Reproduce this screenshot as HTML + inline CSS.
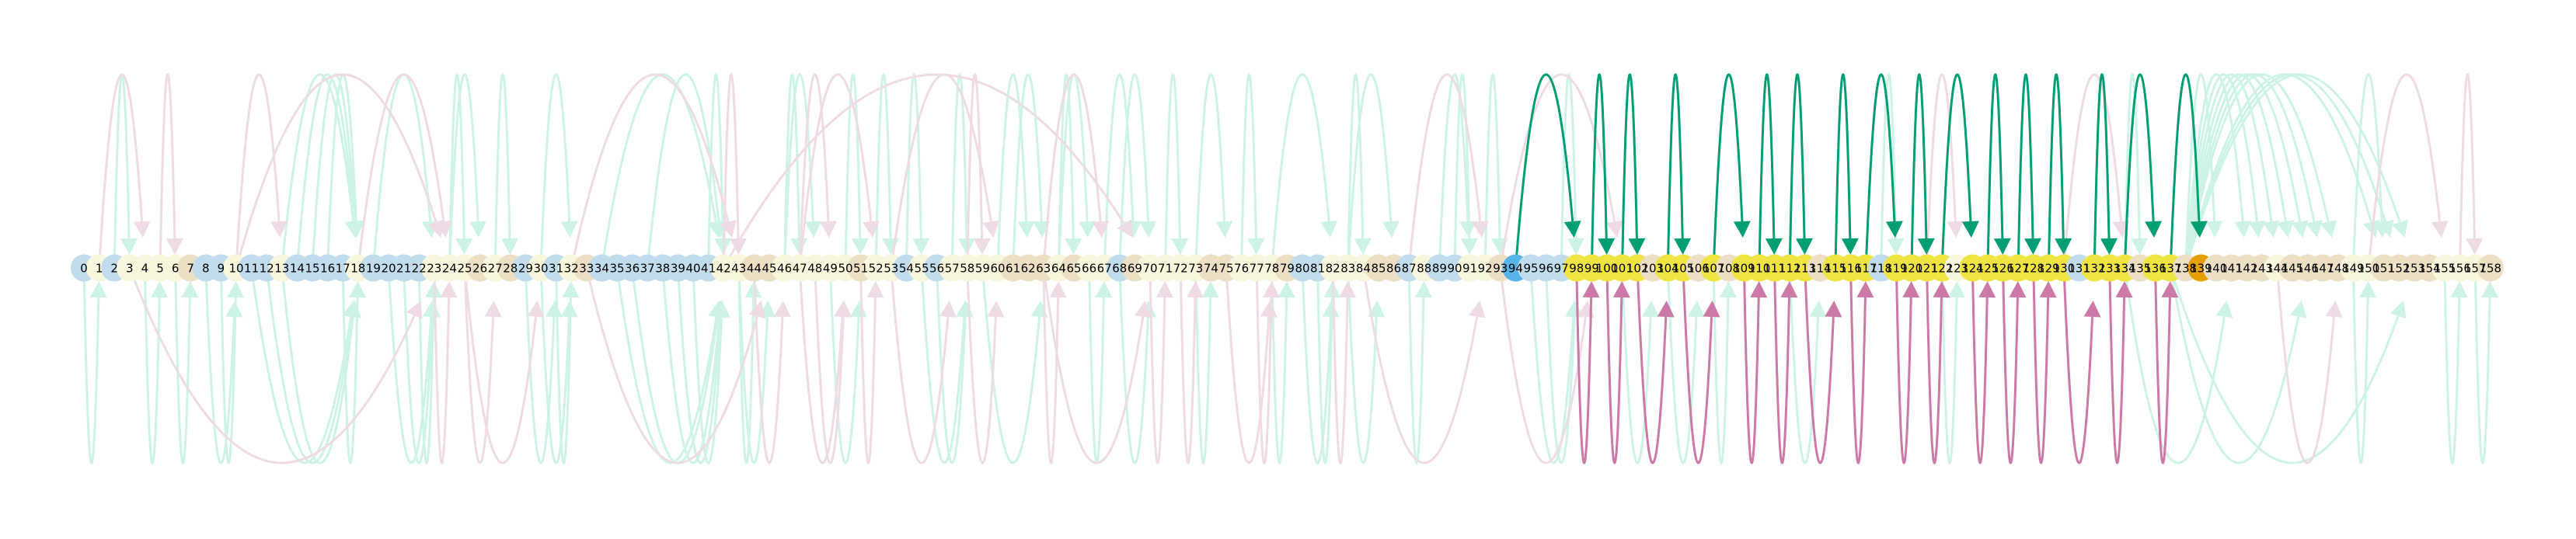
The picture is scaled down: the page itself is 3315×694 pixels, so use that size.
<!DOCTYPE html>
<html><head><meta charset="utf-8">
<style>
html,body{margin:0;padding:0;background:#fff;}
svg{display:block;}
</style></head>
<body>
<svg id="chart" width="3315" height="694" viewBox="0 0 3315 694" xmlns="http://www.w3.org/2000/svg">
<g id="edges-faint"></g>
<g id="edges-hi"></g>
<g id="nodes"></g>
</svg>
<script>
// node color codes per node index 0..158
const nodeColorCodes = "BCBCCCCTBB" + "CBBCBBBBCB" + "BBBCCCTCTB" + "CBCTBBBBBB" + "BBCCTTCCCC" +
  "CTCCBCBCCC" + "CTTTCTCCBT" + "CCCCTTCCCT" + "BBCCCTTBCB" + "BCCTDBBBYY" +
  "YYYTYYTYTY" + "YYYYTYYYBY" + "YYYCYYYYYY" + "YBYYYTYYTO" + "TTTTCTTTTC" + "CTTTTCCCT";
const upMint = [[2,3],[14,18],[15,18],[16,18],[13,18],[19,23],[24,25],[24,26],[27,28],[30,32],[34,42],[37,42],[41,42],[46,47],[46,48],[50,51],[52,53],[54,55],[57,58],[60,62],[61,63],[64,65],[64,66],[67,69],[68,70],[71,72],[73,75],[76,77],[78,82],[83,84],[83,86],[89,91],[90,91],[92,93],[97,98],[118,119],[132,133],[134,135],[138,140],[138,142],[138,143],[138,144],[138,145],[138,146],[138,147],[138,148],[138,151],[138,152],[138,153],[149,151]];
const upPink = [[1,4],[5,6],[10,13],[10,24],[18,24],[32,43],[42,43],[42,70],[47,49],[47,52],[53,60],[58,59],[63,67],[87,92],[93,101],[121,123],[130,134],[150,155],[156,157]];
const downMint = [[0,1],[4,5],[6,7],[8,10],[9,10],[11,18],[12,18],[13,18],[17,18],[20,23],[21,23],[22,23],[29,31],[30,32],[31,32],[35,42],[36,42],[38,42],[39,42],[40,42],[43,44],[43,45],[49,51],[55,58],[56,58],[59,63],[66,67],[68,70],[73,74],[78,79],[80,82],[81,82],[83,85],[87,88],[95,98],[96,98],[101,103],[104,106],[107,108],[112,114],[122,123],[134,141],[137,146],[137,153],[149,150],[155,156],[157,158]];
const downPink = [[3,23],[23,24],[25,27],[25,30],[33,45],[44,46],[47,50],[48,50],[51,52],[53,57],[58,60],[63,64],[63,70],[70,71],[72,73],[75,78],[77,78],[82,83],[84,92],[93,99],[144,148]];
const upGreen = [[94,98],[99,100],[101,102],[104,105],[107,109],[110,111],[112,113],[115,116],[117,119],[120,121],[122,124],[125,126],[127,128],[129,130],[132,133],[134,136],[137,139]];
const downMagenta = [[98,99],[100,101],[102,104],[105,107],[109,110],[111,112],[113,115],[116,117],[119,120],[121,122],[124,125],[126,127],[128,129],[130,132],[133,134],[136,137]];

const NS = "http://www.w3.org/2000/svg";
const X0 = 108, DX = 19.6, YC = 345, TOP = 96, BOT = 596;
const palette = {B:"#c1dcec",C:"#f8f6dc",T:"#ecdfc4",Y:"#f0e442",D:"#56b4e9",O:"#e69f00"};
function xOf(i){ return X0 + DX*i; }

function drawEdge(parent, s, t, up, color, name){
  const x0 = xOf(s), x1 = xOf(t);
  const peak = up ? TOP : BOT;
  const C = 2*peak - YC;
  const span = Math.abs(t - s);
  const tipY = up ? (span === 1 ? 328 : 306) : (span === 1 ? 362 : 387);
  const k = (tipY - YC) / (C - YC);
  const tEnd = (1 + Math.sqrt(Math.max(0, 1 - 2*k))) / 2;
  const px = u => x0 + (x1 - x0)*u;
  const py = u => YC + 2*u*(1-u)*(C - YC);
  const dxdt = x1 - x0, dydt = 2*(1 - 2*tEnd)*(C - YC);
  const len = Math.hypot(dxdt, dydt);
  const ux = dxdt/len, uy = dydt/len;
  const tipx = px(tEnd), tipy = py(tEnd);
  const L = 21, W = 11;
  const bx = tipx - ux*L, by = tipy - uy*L;
  let pts = [];
  const N = 80;
  for (let i=0;i<=N;i++){
    const u = tEnd*i/N;
    const x = px(u), y = py(u);
    if (Math.hypot(x - tipx, y - tipy) < L - 1 && i > N/2) break;
    pts.push(x.toFixed(1)+","+y.toFixed(1));
  }
  pts.push(bx.toFixed(1)+","+by.toFixed(1));
  const g = document.createElementNS(NS, "g");
  
  
  const pl = document.createElementNS(NS, "polyline");
  pl.setAttribute("points", pts.join(" "));
  pl.setAttribute("fill", "none");
  pl.setAttribute("stroke", color);
  pl.setAttribute("stroke-width", "3");
  
  
  g.appendChild(pl);
  const nx = -uy, ny = ux;
  const tri = document.createElementNS(NS, "polygon");
  tri.setAttribute("points", [
    tipx+","+tipy,
    (bx+nx*W)+","+(by+ny*W),
    (bx-nx*W)+","+(by-ny*W)].join(" "));
  tri.setAttribute("fill", color);
  
  
  g.appendChild(tri);
  parent.appendChild(g);
}

const gf = document.getElementById("edges-faint");
const gh = document.getElementById("edges-hi");
upMint.forEach(e => drawEdge(gf, e[0], e[1], true, "#cdf3e7", "edge-up-"+e[0]+"-"+e[1]));
downMint.forEach(e => drawEdge(gf, e[0], e[1], false, "#cdf3e7", "edge-down-"+e[0]+"-"+e[1]));
upPink.forEach(e => drawEdge(gf, e[0], e[1], true, "#eedbe6", "edge-up-"+e[0]+"-"+e[1]));
downPink.forEach(e => drawEdge(gf, e[0], e[1], false, "#eedbe6", "edge-down-"+e[0]+"-"+e[1]));
upGreen.forEach(e => drawEdge(gh, e[0], e[1], true, "#009e73", "highlight-edge-up-"+e[0]+"-"+e[1]));
downMagenta.forEach(e => drawEdge(gh, e[0], e[1], false, "#cc79a7", "highlight-edge-down-"+e[0]+"-"+e[1]));

const gn = document.getElementById("nodes");
for (let i=0;i<nodeColorCodes.length;i++){
  const c = document.createElementNS(NS, "ellipse");
  c.setAttribute("cx", xOf(i)); c.setAttribute("cy", YC);
  c.setAttribute("rx", 17); c.setAttribute("ry", 17.5);
  c.setAttribute("fill", palette[nodeColorCodes[i]]);
  
  
  gn.appendChild(c);
}
for (let i=0;i<nodeColorCodes.length;i++){
  const t = document.createElementNS(NS, "text");
  t.setAttribute("x", xOf(i)); t.setAttribute("y", YC+5.5);
  t.setAttribute("text-anchor", "middle");
  t.setAttribute("font-family", "DejaVu Sans, Liberation Sans, sans-serif");
  t.setAttribute("font-size", "15");
  t.setAttribute("fill", "#000");
  t.textContent = String(i);
  
  
  gn.appendChild(t);
}
</script>
</body></html>
